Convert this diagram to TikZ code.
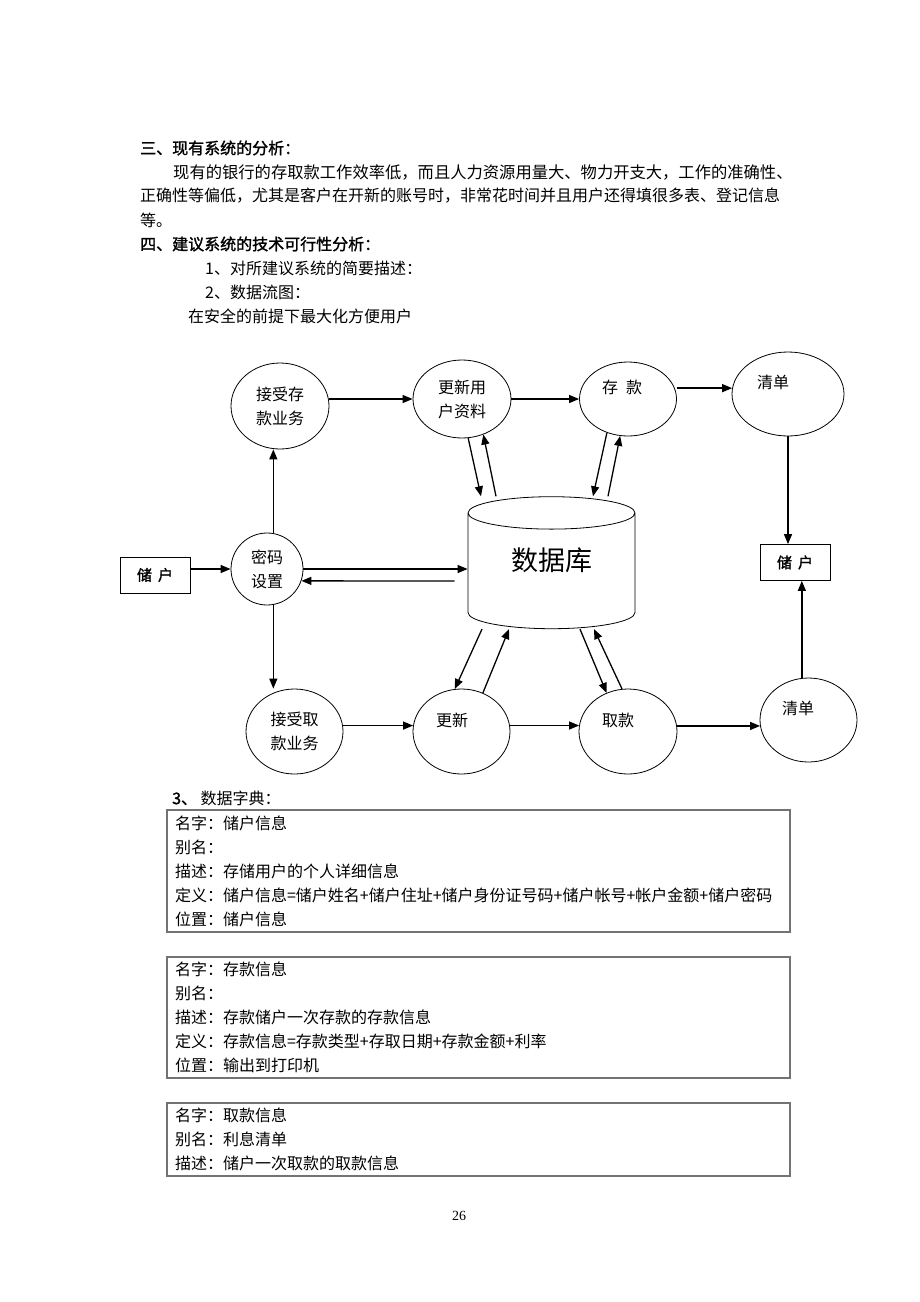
\documentclass[tikz,border=0pt]{standalone}
\usepackage{fontspec}
\setmainfont{Liberation Serif}
\newfontfamily\cjk{Noto Sans CJK SC}
\newfontfamily\cjkbf[FakeBold=1.5]{Noto Sans CJK SC}
\usetikzlibrary{shapes,arrows.meta,positioning,calc}

\begin{document}
\begin{tikzpicture}[
    x=1pt, y=-1pt,
    txt/.style={anchor=west, inner sep=0pt, font=\cjk\fontsize{16}{24}\selectfont},
    head/.style={anchor=west, inner sep=0pt, font=\cjkbf\fontsize{16}{24}\selectfont},
    proc/.style={ellipse, draw, line width=0.8pt, inner sep=0pt, align=center, font=\cjk\fontsize{16}{24}\selectfont},
    store/.style={cylinder, shape border rotate=90, draw, line width=0.8pt, aspect=0.4, minimum width=167pt, minimum height=132pt, inner sep=0pt, font=\cjk\fontsize{27}{30}\selectfont},
    ext/.style={rectangle, draw, line width=0.8pt, minimum width=70pt, minimum height=36pt, font=\cjkbf\fontsize{15}{18}\selectfont},
    arrow/.style={-{Triangle[length=10pt, width=8pt]}, line width=1.3pt},
    dict/.style={rectangle, draw=black!55, line width=1.2pt, text width=607pt, inner xsep=8pt, inner ysep=0pt, align=left, font=\cjk\fontsize{16}{24}\selectfont}
]
\fill[white] (0,0) rectangle (920,1302);
\useasboundingbox (0,0) rectangle (920,1302);

% 正文
\node[head] (t1) at (140,148) {三、现有系统的分析：};
\node[txt, font=\cjk\fontsize{16.3}{24}\selectfont] (p1) at (173,172) {现有的银行的存取款工作效率低，而且人力资源用量大、物力开支大，工作的准确性、};
\node[txt] (p2) at (140,196) {正确性等偏低，尤其是客户在开新的账号时，非常花时间并且用户还得填很多表、登记信息};
\node[txt] (p3) at (140,220) {等。};
\node[head] (t2) at (140,244) {四、建议系统的技术可行性分析：};
\node[txt] (s1) at (205,268) {1、对所建议系统的简要描述：};
\node[txt] (s2) at (205,292) {2、数据流图：};
\node[txt] (s3) at (188,316) {在安全的前提下最大化方便用户};

% 数据流图
\node[proc, minimum width=98pt, minimum height=86pt] (jscun) at (280,406) {接受存\\款业务};
\node[proc, minimum width=98pt, minimum height=78pt] (gxyh) at (462,399) {更新用\\户资料};
\node[proc, minimum width=97pt, minimum height=74pt] (ck) at (628,399) {存\hspace{8pt}款\hspace*{12pt}\\\mbox{}};
\node[proc, minimum width=112pt, minimum height=84pt] (qd1) at (788,394) {清单\hspace*{30pt}\\\mbox{}};
\node[proc, minimum width=72pt, minimum height=72pt] (mima) at (267,569) {密码\\设置};
\node[store] (db) at (551.5,571) {\raisebox{24pt}{数据库}};
\node[ext] (hu1) at (155,575) {储\hspace{6pt}户};
\node[ext] (hu2) at (795,562.5) {储\hspace{6pt}户};
\node[proc, minimum width=97pt, minimum height=85pt] (jqu) at (294.5,731.5) {接受取\\款业务};
\node[proc, minimum width=97pt, minimum height=85pt] (gx) at (461.5,731.5) {更新\hspace*{19pt}\\\mbox{}};
\node[proc, minimum width=98pt, minimum height=85pt] (qk) at (628,731.5) {取款\hspace*{20pt}\\\mbox{}};
\node[proc, minimum width=97pt, minimum height=84pt] (qd2) at (808.5,720) {清单\hspace*{21pt}\\\mbox{}};

% 存款流程
\draw[arrow] (mima.80) -- (mima.80 |- jscun.south);
\draw[arrow] (gxyh.west -| jscun.east) -- (gxyh.west);
\draw[arrow] (gxyh.east) -- (gxyh.east -| ck.west);
\draw[arrow] (qd1.174 -| ck.east) -- (qd1.174);
\draw[arrow] (qd1.south) -- (qd1.south |- hu2.north);

% 取款流程
\draw[arrow] (mima.-80) -- (mima.-80 |- jqu.north);
\draw[arrow] (gx.173 -| jqu.east) -- (gx.173);
\draw[arrow] (qk.173 -| gx.east) -- (qk.173);
\draw[arrow] (qd2.187 -| qk.east) -- (qd2.187);
\draw[arrow] (qd2.99) -- (qd2.99 |- hu2.south);

% 密码设置
\draw[arrow] (hu1.east |- mima.west) -- (mima.west);
\draw[arrow] (mima.east) -- (mima.east -| db.west);
\draw[arrow] ([xshift=-13pt, yshift=-10pt]db.west) -- (mima.-19);

% 数据库读写
\draw[arrow] (gxyh.-81) -- ([xshift=-70.5pt]db.north);
\draw[arrow] ([xshift=-55.5pt]db.north) -- (gxyh.-59);
\draw[arrow] (ck.-122) -- ([xshift=41.5pt]db.north);
\draw[arrow] ([xshift=56.5pt]db.north) -- (ck.-102);
\draw[arrow] ([xshift=-69.5pt]db.south) -- (gx.99);
\draw[arrow] (gx.61) -- ([xshift=-42.5pt]db.south);
\draw[arrow] ([xshift=28.5pt]db.south) -- (qk.119);
\draw[arrow] (qk.98) -- ([xshift=42.5pt]db.south);

% 数据字典
\node[txt] (s4) at (172,798) {{\cjkbf 3、}\ 数据字典：};
\node[dict, minimum height=122pt] (d1) at (478.5,871) {名字：储户信息\\别名：\\描述：存储用户的个人详细信息\\定义：储户信息=储户姓名+储户住址+储户身份证号码+储户帐号+帐户金额+储户密码\\位置：储户信息};
\node[dict, minimum height=121pt] (d2) at (478.5,1017.5) {名字：存款信息\\别名：\\描述：存款储户一次存款的存款信息\\定义：存款信息=存款类型+存取日期+存款金额+利率\\位置：输出到打印机};
\node[dict, minimum height=73pt] (d3) at (478.5,1139.5) {名字：取款信息\\别名：利息清单\\描述：储户一次取款的取款信息};

\node[font=\fontsize{14}{16}\selectfont] (pg) at (459,1216) {26};

\end{tikzpicture}
\end{document}
